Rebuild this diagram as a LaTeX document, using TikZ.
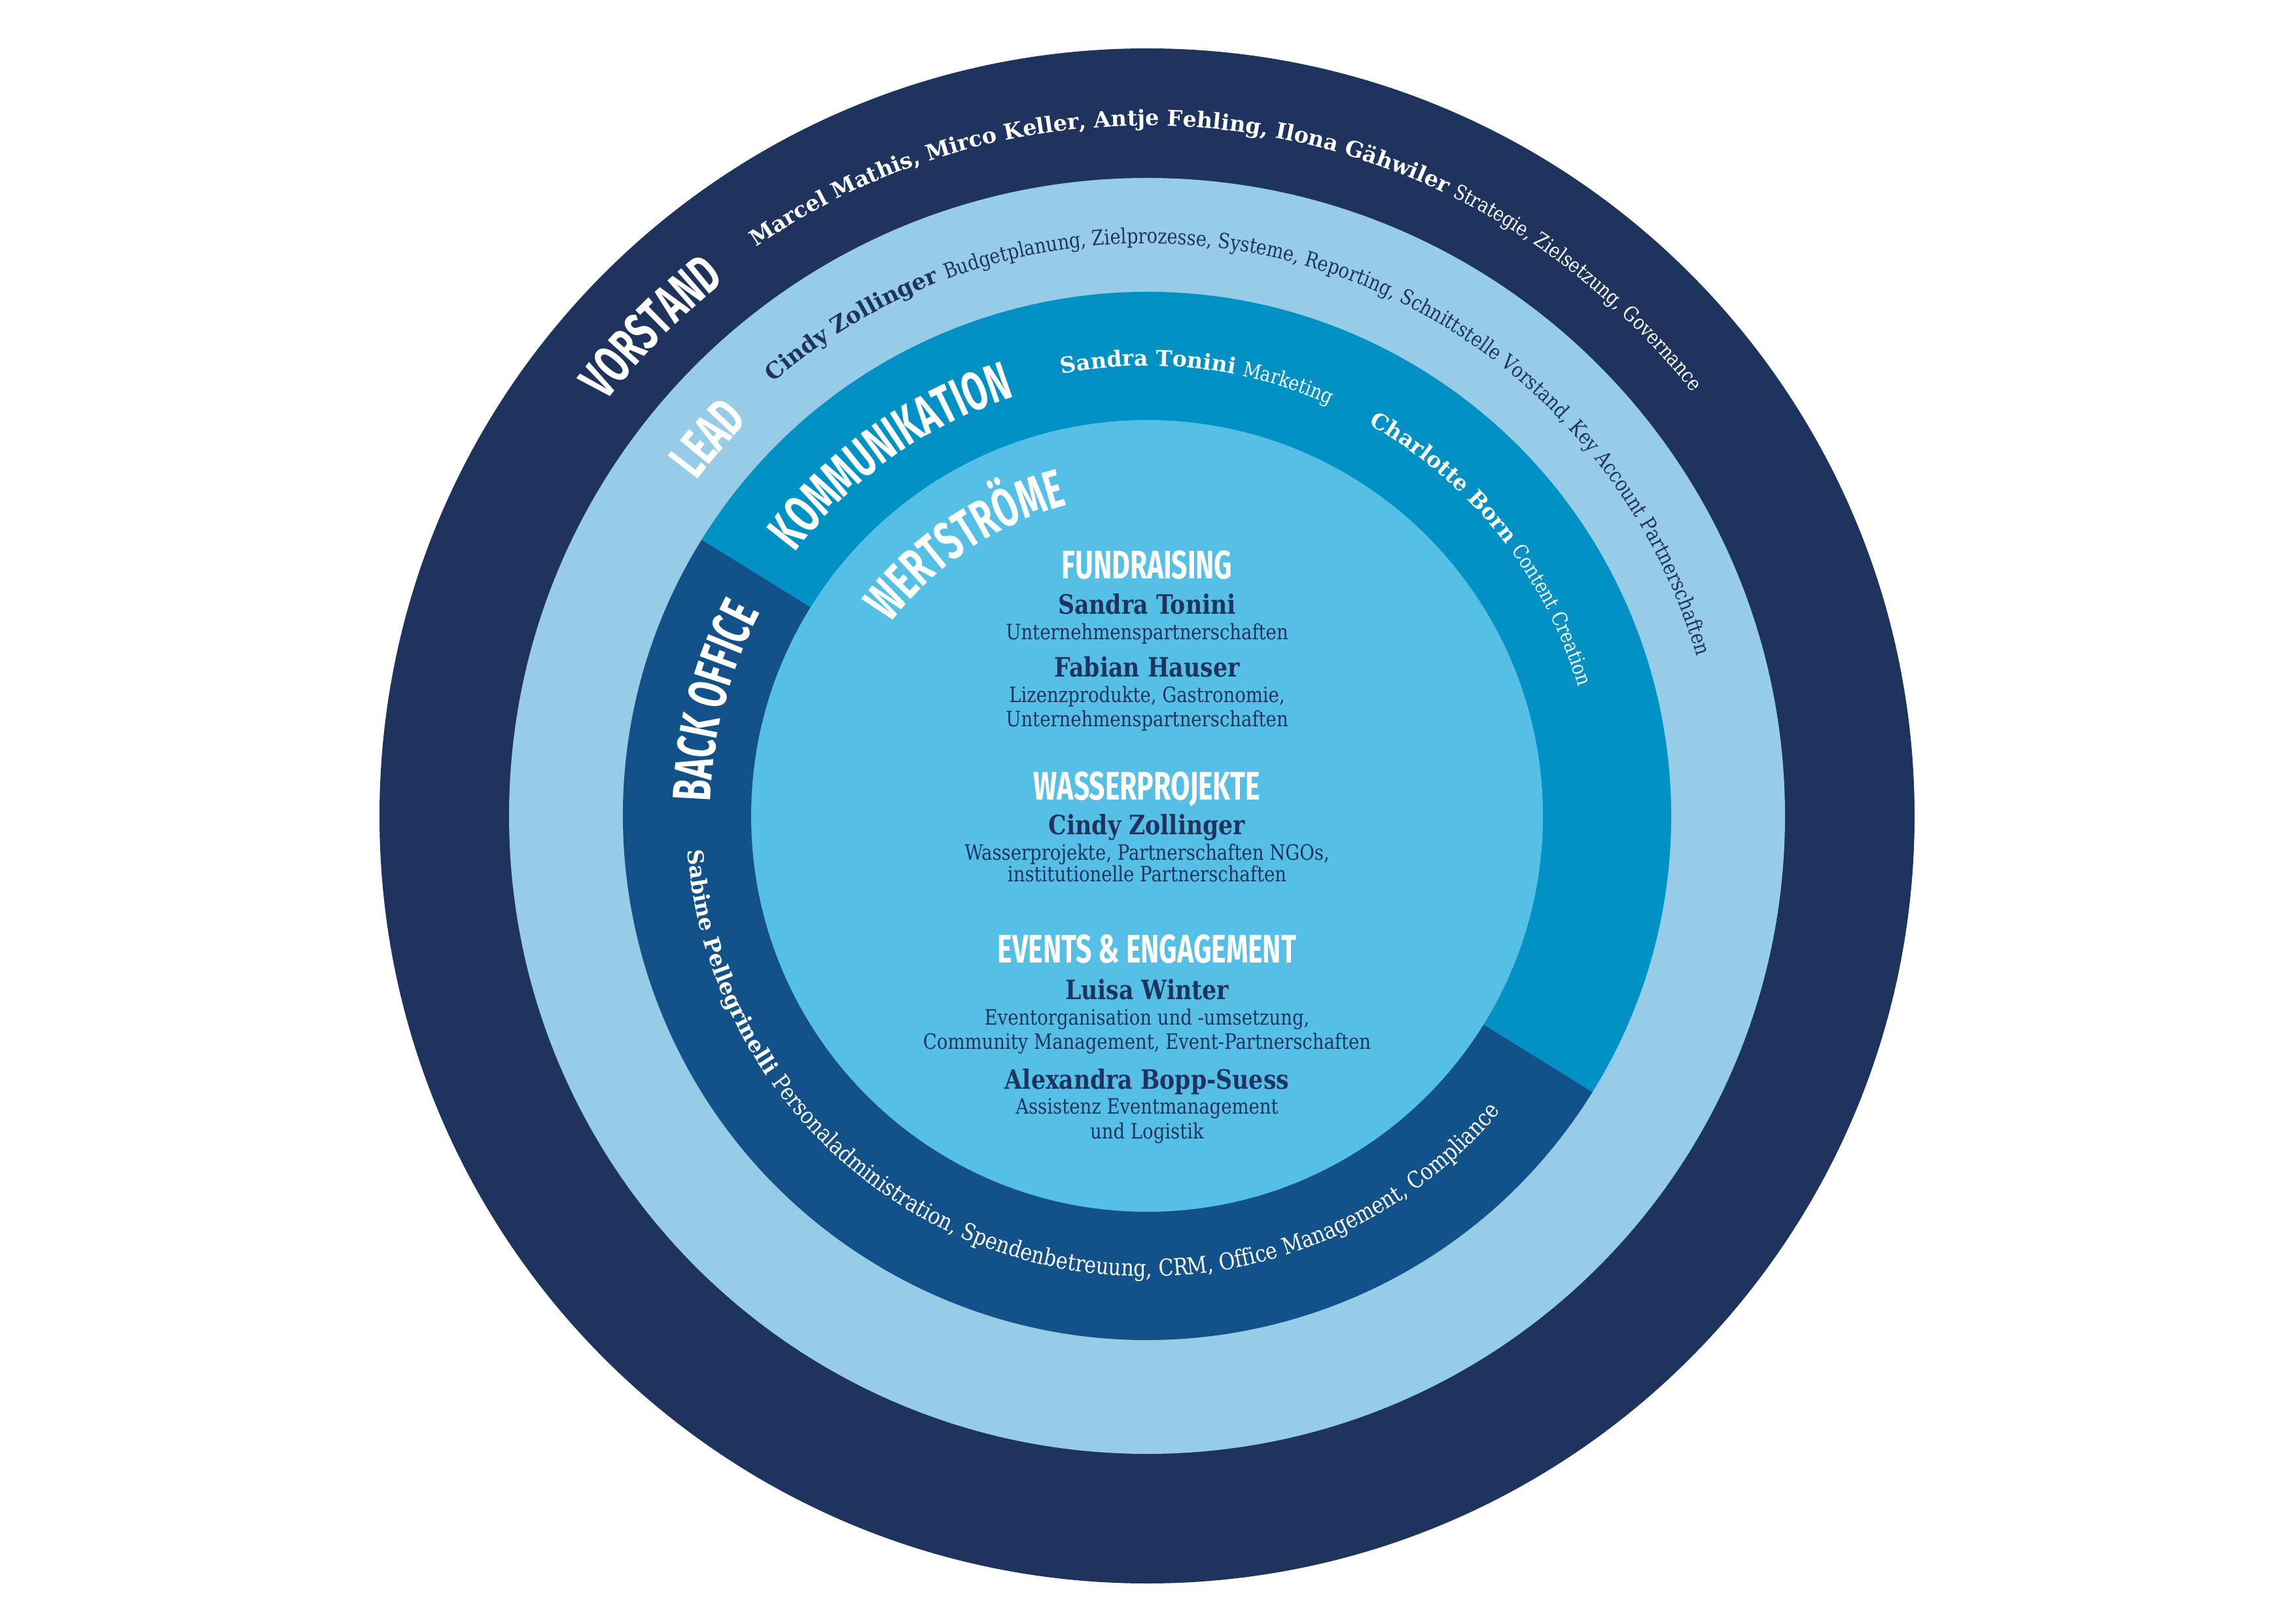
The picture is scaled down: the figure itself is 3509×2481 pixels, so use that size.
\documentclass[tikz,border=0pt]{standalone}
\usepackage{fontspec}
\setmainfont{DejaVu Serif}[FakeStretch=0.85]
\newfontfamily\arcfamily{DejaVu Serif}
\newfontfamily\headfamily{Fira Sans}[FakeStretch=0.64]
\newfontfamily\ctrheadfamily{Fira Sans}[FakeStretch=0.70]
\usetikzlibrary{decorations.text}
\definecolor{navy}{HTML}{1F335F}
\definecolor{lightring}{HTML}{97CCE7}
\definecolor{kommblue}{HTML}{0291C5}
\definecolor{backblue}{HTML}{125189}
\definecolor{innerblue}{HTML}{55BFE6}
\newcommand\archeadfont{\headfamily\bfseries\fontsize{23.5}{24}\selectfont}
\newcommand\ctrheadfont{\ctrheadfamily\bfseries\fontsize{17.3}{18}\selectfont}
\newcommand\ctrnamefont{\bfseries\fontsize{11.6}{13}\selectfont}
\newcommand\ctrdescfont{\mdseries\fontsize{9.2}{11}\selectfont}
\newcommand\arcnamefont{\arcfamily\bfseries\fontsize{9.5}{11}\selectfont}
\newcommand\arcnamefontb{\arcfamily\bfseries\fontsize{9.8}{11}\selectfont}
\newcommand\arcdescfont{\mdseries\fontsize{8.9}{10}\selectfont}
\newcommand\arcdescfontc{\mdseries\fontsize{9.1}{10}\selectfont}
\newcommand\arcdescfontb{\mdseries\fontsize{10.1}{11}\selectfont}
\begin{document}
\begin{tikzpicture}[x=0.01cm, y=0.01cm,
  ctrhead/.style={anchor=base, inner sep=0pt, text=white, font=\ctrheadfont},
  ctrname/.style={anchor=base, inner sep=0pt, text=navy, font=\ctrnamefont},
  ctrdesc/.style={anchor=base, inner sep=0pt, text=navy, font=\ctrdescfont}]
\useasboundingbox (0,0) rectangle (3509,2481);
\fill[white] (0,0) rectangle (3509,2481);
\begin{scope}[shift={(1753,1234)}]
  % rings
  \fill[navy] (0,0) circle[radius=1173];
  \fill[lightring] (0,0) circle[radius=975];
  \fill[kommblue] (0,0) -- (-31.8:801) arc[start angle=-31.8, end angle=148.2, radius=801] -- cycle;
  \fill[backblue] (0,0) -- (148.2:801) arc[start angle=148.2, end angle=328.2, radius=801] -- cycle;
  \fill[innerblue] (0,0) circle[radius=605];

  % ring headings
  \path[decorate, decoration={text along path, text align=center,
    text={|\color{white}\archeadfont|VORSTAND}}]
    (165.4:1041) arc[start angle=165.4, end angle=105.4, radius=1041];
  \path[decorate, decoration={text along path, text align=center,
    text={|\color{white}\archeadfont|LEAD}}]
    (169.3:858) arc[start angle=169.3, end angle=109.3, radius=858];
  \path[decorate, decoration={text along path, text align=center,
    text={|\color{white}\archeadfont|KOMMUNIKATION}}]
    (165.4:672) arc[start angle=165.4, end angle=85.4, radius=672];
  \path[decorate, decoration={text along path, text align=center,
    text={|\color{white}\archeadfont|BACK OFFICE}}]
    (195.2:668) arc[start angle=195.2, end angle=135.2, radius=668];
  \path[decorate, decoration={text along path, text align=center,
    text={|\color{white}\archeadfont|WERTSTRÖME}}]
    (168.8:490) arc[start angle=168.8, end angle=78.8, radius=490];

  % ring texts
  \path[decorate, decoration={text along path,
    text={|\color{white}\arcnamefont|Marcel Mathis, Mirco Keller, Antje Fehling, Ilona Gähwiler |\color{white}\arcdescfont|Strategie, Zielsetzung, Governance}}]
    (124.5:1055) arc[start angle=124.5, end angle=10, radius=1055];
  \path[decorate, decoration={text along path,
    text={|\color{navy}\arcnamefontb|Cindy Zollinger |\color{navy}\arcdescfontc|Budgetplanung, Zielprozesse, Systeme, Reporting, Schnittstelle Vorstand, Key Account Partnerschaften}}]
    (130.8:875) arc[start angle=130.8, end angle=-10, radius=875];
  \path[decorate, decoration={text along path,
    text={|\color{white}\arcnamefont|Sandra Tonini |\color{white}\arcdescfont|Marketing}}]
    (100.9:688) arc[start angle=100.9, end angle=40, radius=688];
  \path[decorate, decoration={text along path,
    text={|\color{white}\arcnamefont|Charlotte Born |\color{white}\arcdescfont|Content Creation}}]
    (60.5:688) arc[start angle=60.5, end angle=-30, radius=688];
  \path[decorate, decoration={text along path,
    text={|\color{white}\arcnamefont|Sabine Pellegrinelli |\color{white}\arcdescfontb|Personaladministration, Spendenbetreuung, CRM, Office Management, Compliance}}]
    (184.3:704) arc[start angle=184.3, end angle=350, radius=704];

  % centre
  \node[ctrhead] (fund) at (0,362) {FUNDRAISING};
  \node[ctrname] (st) at (0,308) {Sandra Tonini};
  \node[ctrdesc] (std) at (0,269) {Unternehmenspartnerschaften};
  \node[ctrname] (fh) at (0,212) {Fabian Hauser};
  \node[ctrdesc] (fhd1) at (0,173) {Lizenzprodukte, Gastronomie,};
  \node[ctrdesc] (fhd2) at (0,136) {Unternehmenspartnerschaften};
  \node[ctrhead] (wasser) at (0,24) {WASSERPROJEKTE};
  \node[ctrname] (cz) at (0,-29) {Cindy Zollinger};
  \node[ctrdesc] (czd1) at (0,-68) {Wasserprojekte, Partnerschaften NGOs,};
  \node[ctrdesc] (czd2) at (0,-101) {institutionelle Partnerschaften};
  \node[ctrhead] (events) at (0,-225) {EVENTS \& ENGAGEMENT};
  \node[ctrname] (lw) at (0,-281) {Luisa Winter};
  \node[ctrdesc] (lwd1) at (0,-320) {Eventorganisation und -umsetzung,};
  \node[ctrdesc] (lwd2) at (0,-357) {Community Management, Event-Partnerschaften};
  \node[ctrname] (ab) at (0,-418) {Alexandra Bopp-Suess};
  \node[ctrdesc] (abd1) at (0,-456) {Assistenz Eventmanagement};
  \node[ctrdesc] (abd2) at (0,-494) {und Logistik};
\end{scope}
\end{tikzpicture}
\end{document}
